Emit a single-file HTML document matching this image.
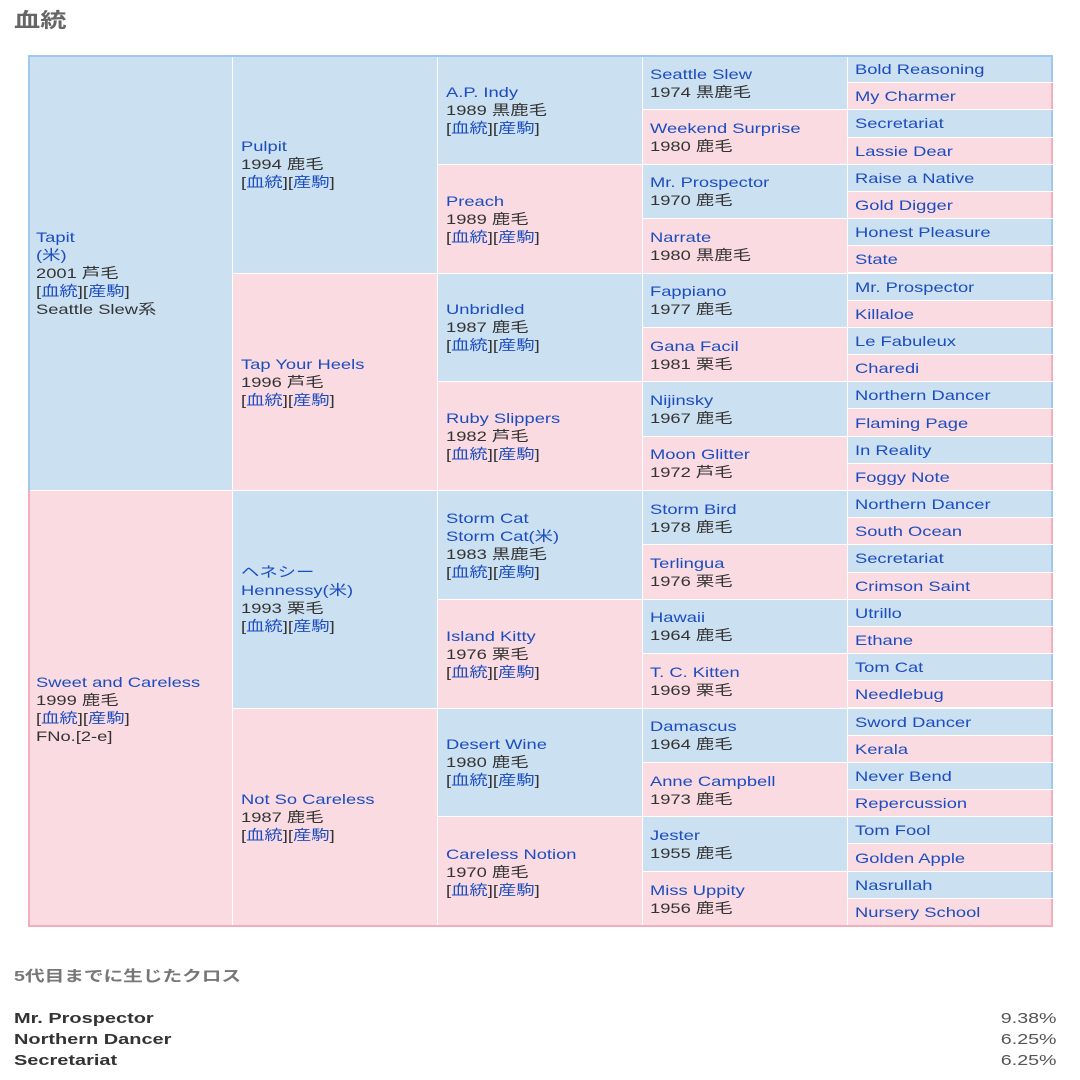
<!DOCTYPE html>
<html><head><meta charset="utf-8">
<style>
html,body{margin:0;padding:0;background:#fff;width:1080px;height:1080px;overflow:hidden;position:relative;font-family:"Liberation Sans","Noto Sans CJK JP",sans-serif;}
.c{position:absolute;display:flex;align-items:center;padding-left:8px;box-sizing:border-box;}
.b{background:#cbe0f1;}
.p{background:#fadbe1;}
.k1{left:28px;width:204px;}
.k2{left:233px;width:204px;}
.k3{left:438px;width:204px;}
.k4{left:643px;width:204px;padding-left:7px;}
.k5{left:848px;width:205px;padding-left:7px;}
.k5.b{box-shadow:inset -2px 0 #a0c8ec;}
.k5.p{box-shadow:inset -2px 0 #f2aebb;}
.t{transform:scaleX(1.31);transform-origin:0 50%;white-space:nowrap;line-height:18px;font-size:14px;color:#333;}
a{color:#1c4dc0;text-decoration:none;}
.ln{position:absolute;}
</style></head><body>
<div style="position:absolute;left:14px;top:7px;font-size:20px;font-weight:bold;color:#666;line-height:28px;transform:scaleX(1.31);transform-origin:0 50%;white-space:nowrap;">血統</div>

<!-- col1 -->
<div class="c k1 b" style="top:56px;height:434px;"><div class="t"><a>Tapit</a><br><a>(米)</a><br>2001 芦毛<br>[<a>血統</a>][<a>産駒</a>]<br>Seattle Slew系</div></div>
<div class="c k1 p" style="top:491px;height:435px;"><div class="t"><a>Sweet and Careless</a><br>1999 鹿毛<br>[<a>血統</a>][<a>産駒</a>]<br>FNo.[2-e]</div></div>

<!-- col2 -->
<div class="c k2 b" style="top:56px;height:216.5px;"><div class="t"><a>Pulpit</a><br>1994 鹿毛<br>[<a>血統</a>][<a>産駒</a>]</div></div>
<div class="c k2 p" style="top:273.5px;height:216.5px;"><div class="t"><a>Tap Your Heels</a><br>1996 芦毛<br>[<a>血統</a>][<a>産駒</a>]</div></div>
<div class="c k2 b" style="top:491px;height:216.5px;"><div class="t"><a>ヘネシー</a><br><a>Hennessy(米)</a><br>1993 栗毛<br>[<a>血統</a>][<a>産駒</a>]</div></div>
<div class="c k2 p" style="top:708.5px;height:217.5px;"><div class="t"><a>Not So Careless</a><br>1987 鹿毛<br>[<a>血統</a>][<a>産駒</a>]</div></div>

<!-- col3 -->
<div class="c k3 b" style="top:56px;height:107.75px;"><div class="t"><a>A.P. Indy</a><br>1989 黒鹿毛<br>[<a>血統</a>][<a>産駒</a>]</div></div>
<div class="c k3 p" style="top:164.75px;height:107.75px;"><div class="t"><a>Preach</a><br>1989 鹿毛<br>[<a>血統</a>][<a>産駒</a>]</div></div>
<div class="c k3 b" style="top:273.5px;height:107.75px;"><div class="t"><a>Unbridled</a><br>1987 鹿毛<br>[<a>血統</a>][<a>産駒</a>]</div></div>
<div class="c k3 p" style="top:382.25px;height:107.75px;"><div class="t"><a>Ruby Slippers</a><br>1982 芦毛<br>[<a>血統</a>][<a>産駒</a>]</div></div>
<div class="c k3 b" style="top:491px;height:107.75px;"><div class="t"><a>Storm Cat</a><br><a>Storm Cat(米)</a><br>1983 黒鹿毛<br>[<a>血統</a>][<a>産駒</a>]</div></div>
<div class="c k3 p" style="top:599.75px;height:107.75px;"><div class="t"><a>Island Kitty</a><br>1976 栗毛<br>[<a>血統</a>][<a>産駒</a>]</div></div>
<div class="c k3 b" style="top:708.5px;height:107.75px;"><div class="t"><a>Desert Wine</a><br>1980 鹿毛<br>[<a>血統</a>][<a>産駒</a>]</div></div>
<div class="c k3 p" style="top:817.25px;height:108.75px;"><div class="t"><a>Careless Notion</a><br>1970 鹿毛<br>[<a>血統</a>][<a>産駒</a>]</div></div>

<!-- col4 -->
<div class="c k4 b" style="top:56px;height:53.375px;"><div class="t"><a>Seattle Slew</a><br>1974 黒鹿毛</div></div>
<div class="c k4 p" style="top:110.375px;height:53.375px;"><div class="t"><a>Weekend Surprise</a><br>1980 鹿毛</div></div>
<div class="c k4 b" style="top:164.75px;height:53.375px;"><div class="t"><a>Mr. Prospector</a><br>1970 鹿毛</div></div>
<div class="c k4 p" style="top:219.125px;height:53.375px;"><div class="t"><a>Narrate</a><br>1980 黒鹿毛</div></div>
<div class="c k4 b" style="top:273.5px;height:53.375px;"><div class="t"><a>Fappiano</a><br>1977 鹿毛</div></div>
<div class="c k4 p" style="top:327.875px;height:53.375px;"><div class="t"><a>Gana Facil</a><br>1981 栗毛</div></div>
<div class="c k4 b" style="top:382.25px;height:53.375px;"><div class="t"><a>Nijinsky</a><br>1967 鹿毛</div></div>
<div class="c k4 p" style="top:436.625px;height:53.375px;"><div class="t"><a>Moon Glitter</a><br>1972 芦毛</div></div>
<div class="c k4 b" style="top:491px;height:53.375px;"><div class="t"><a>Storm Bird</a><br>1978 鹿毛</div></div>
<div class="c k4 p" style="top:545.375px;height:53.375px;"><div class="t"><a>Terlingua</a><br>1976 栗毛</div></div>
<div class="c k4 b" style="top:599.75px;height:53.375px;"><div class="t"><a>Hawaii</a><br>1964 鹿毛</div></div>
<div class="c k4 p" style="top:654.125px;height:53.375px;"><div class="t"><a>T. C. Kitten</a><br>1969 栗毛</div></div>
<div class="c k4 b" style="top:708.5px;height:53.375px;"><div class="t"><a>Damascus</a><br>1964 鹿毛</div></div>
<div class="c k4 p" style="top:762.875px;height:53.375px;"><div class="t"><a>Anne Campbell</a><br>1973 鹿毛</div></div>
<div class="c k4 b" style="top:817.25px;height:53.375px;"><div class="t"><a>Jester</a><br>1955 鹿毛</div></div>
<div class="c k4 p" style="top:871.625px;height:54.375px;"><div class="t"><a>Miss Uppity</a><br>1956 鹿毛</div></div>

<!-- col5 -->
<div class="c k5 b" style="top:56px;height:26.19px;"><div class="t"><a>Bold Reasoning</a></div></div>
<div class="c k5 p" style="top:83.19px;height:26.19px;"><div class="t"><a>My Charmer</a></div></div>
<div class="c k5 b" style="top:110.38px;height:26.19px;"><div class="t"><a>Secretariat</a></div></div>
<div class="c k5 p" style="top:137.56px;height:26.19px;"><div class="t"><a>Lassie Dear</a></div></div>
<div class="c k5 b" style="top:164.75px;height:26.19px;"><div class="t"><a>Raise a Native</a></div></div>
<div class="c k5 p" style="top:191.94px;height:26.19px;"><div class="t"><a>Gold Digger</a></div></div>
<div class="c k5 b" style="top:219.13px;height:26.19px;"><div class="t"><a>Honest Pleasure</a></div></div>
<div class="c k5 p" style="top:246.31px;height:26.19px;"><div class="t"><a>State</a></div></div>
<div class="c k5 b" style="top:273.5px;height:26.19px;"><div class="t"><a>Mr. Prospector</a></div></div>
<div class="c k5 p" style="top:300.69px;height:26.19px;"><div class="t"><a>Killaloe</a></div></div>
<div class="c k5 b" style="top:327.88px;height:26.19px;"><div class="t"><a>Le Fabuleux</a></div></div>
<div class="c k5 p" style="top:355.06px;height:26.19px;"><div class="t"><a>Charedi</a></div></div>
<div class="c k5 b" style="top:382.25px;height:26.19px;"><div class="t"><a>Northern Dancer</a></div></div>
<div class="c k5 p" style="top:409.44px;height:26.19px;"><div class="t"><a>Flaming Page</a></div></div>
<div class="c k5 b" style="top:436.63px;height:26.19px;"><div class="t"><a>In Reality</a></div></div>
<div class="c k5 p" style="top:463.81px;height:26.19px;"><div class="t"><a>Foggy Note</a></div></div>
<div class="c k5 b" style="top:491px;height:26.19px;"><div class="t"><a>Northern Dancer</a></div></div>
<div class="c k5 p" style="top:518.19px;height:26.19px;"><div class="t"><a>South Ocean</a></div></div>
<div class="c k5 b" style="top:545.38px;height:26.19px;"><div class="t"><a>Secretariat</a></div></div>
<div class="c k5 p" style="top:572.56px;height:26.19px;"><div class="t"><a>Crimson Saint</a></div></div>
<div class="c k5 b" style="top:599.75px;height:26.19px;"><div class="t"><a>Utrillo</a></div></div>
<div class="c k5 p" style="top:626.94px;height:26.19px;"><div class="t"><a>Ethane</a></div></div>
<div class="c k5 b" style="top:654.13px;height:26.19px;"><div class="t"><a>Tom Cat</a></div></div>
<div class="c k5 p" style="top:681.31px;height:26.19px;"><div class="t"><a>Needlebug</a></div></div>
<div class="c k5 b" style="top:708.5px;height:26.19px;"><div class="t"><a>Sword Dancer</a></div></div>
<div class="c k5 p" style="top:735.69px;height:26.19px;"><div class="t"><a>Kerala</a></div></div>
<div class="c k5 b" style="top:762.88px;height:26.19px;"><div class="t"><a>Never Bend</a></div></div>
<div class="c k5 p" style="top:790.06px;height:26.19px;"><div class="t"><a>Repercussion</a></div></div>
<div class="c k5 b" style="top:817.25px;height:26.19px;"><div class="t"><a>Tom Fool</a></div></div>
<div class="c k5 p" style="top:844.44px;height:26.19px;"><div class="t"><a>Golden Apple</a></div></div>
<div class="c k5 b" style="top:871.63px;height:26.19px;"><div class="t"><a>Nasrullah</a></div></div>
<div class="c k5 p" style="top:898.81px;height:27.19px;"><div class="t"><a>Nursery School</a></div></div>

<!-- outer borders -->
<div class="ln" style="left:28px;top:55px;width:1025px;height:2px;background:#a0c8ec;"></div>
<div class="ln" style="left:28px;top:55px;width:2px;height:436px;background:#a0c8ec;"></div>
<div class="ln" style="left:28px;top:491px;width:2px;height:435px;background:#f2aebb;"></div>
<div class="ln" style="left:28px;top:925px;width:1025px;height:2px;background:#f2aebb;"></div>

<!-- crosses -->
<div style="position:absolute;left:14px;top:966px;font-size:15px;font-weight:bold;color:#777;line-height:22px;transform:scaleX(1.31);transform-origin:0 50%;white-space:nowrap;">5代目までに生じたクロス</div>

<div style="position:absolute;left:14px;top:1008px;font-size:15px;font-weight:bold;color:#333;line-height:21px;transform:scaleX(1.33);transform-origin:0 50%;white-space:nowrap;">Mr. Prospector<br>Northern Dancer<br>Secretariat</div>
<div style="position:absolute;right:23px;top:1008px;font-size:15px;color:#555;line-height:21px;text-align:right;transform:scaleX(1.31);transform-origin:100% 50%;white-space:nowrap;">9.38%<br>6.25%<br>6.25%</div>
</body></html>
